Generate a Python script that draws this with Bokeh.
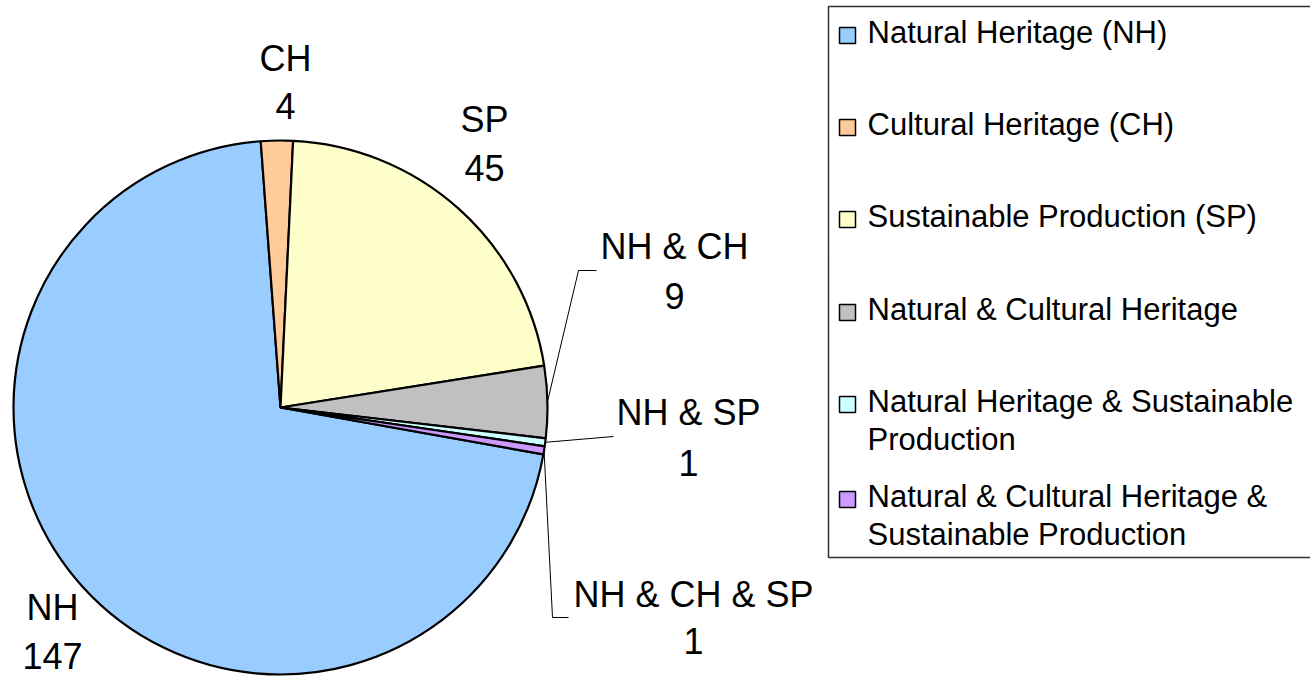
import math
from bokeh.plotting import figure
from bokeh.models import Range1d, ColumnDataSource
from bokeh.core.properties import value
from bokeh.embed import file_html
from bokeh.resources import INLINE

# ---- data ----
categories = [
    "Natural Heritage (NH)",
    "Cultural Heritage (CH)",
    "Sustainable Production (SP)",
    "Natural & Cultural Heritage",
    "Natural Heritage & Sustainable Production",
    "Natural & Cultural Heritage & Sustainable Production",
]
legend_lines = [
    ["Natural Heritage (NH)"],
    ["Cultural Heritage (CH)"],
    ["Sustainable Production (SP)"],
    ["Natural & Cultural Heritage"],
    ["Natural Heritage & Sustainable", "Production"],
    ["Natural & Cultural Heritage &", "Sustainable Production"],
]
short_labels = ["NH", "CH", "SP", "NH & CH", "NH & SP", "NH & CH & SP"]
counts = [147, 4, 45, 9, 1, 1]
colors = ["#99CCFF", "#FFCC99", "#FFFFCC", "#C0C0C0", "#CCFFFF", "#CC99FF"]

FONT = "Liberation Sans"

# ---- layout (pixel-like coordinates; y = -pixel row) ----
W, H = 1310, 678
cx, cy, R = 280, -407, 267
first_angle = -10.1  # degrees, slices go clockwise

total = sum(counts)
starts, ends = [], []
acc = 0.0
for c in counts:
    s = first_angle - acc * 360.0 / total
    e = s - c * 360.0 / total
    starts.append(s)
    ends.append(e)
    acc += c

p = figure(width=W, height=H, x_range=Range1d(0, W), y_range=Range1d(-H, 0),
           output_backend="svg", toolbar_location=None, min_border=0,
           x_axis_type=None, y_axis_type=None)
p.grid.visible = False
p.outline_line_color = None
p.background_fill_color = "white"

src = ColumnDataSource(dict(x=[cx] * len(counts), y=[cy] * len(counts),
                            start=starts, end=ends, color=colors))
p.wedge(x="x", y="y", radius=R, start_angle="start", end_angle="end",
        start_angle_units="deg", end_angle_units="deg", direction="clock",
        fill_color="color", line_color="black", line_width=2.2, source=src)

# ---- data labels ----
label_pos = [(52, 607, 655), (285, 58, 105), (484, 119, 167),
             (674, 246, 295), (688, 412, 462), (693, 594, 640)]
lx, ly, txt = [], [], []
for (x, y1, y2), name, c in zip(label_pos, short_labels, counts):
    lx += [x, x]
    ly += [-y1, -y2]
    txt += [name, str(c)]
p.text(x=lx, y=ly, text=txt, text_align="center", text_baseline="middle",
       text_font=value(FONT), text_font_size="36px", text_color="black")

# ---- leader lines for small slices ----
def edge_point(i):
    mid = math.radians((starts[i] + ends[i]) / 2)
    return cx + R * math.cos(mid), cy + R * math.sin(mid)

x0, y0 = edge_point(3)
p.line([x0, 578, 596], [y0, -270, -270], line_color="black", line_width=1)
x0, y0 = edge_point(4)
p.line([x0, 613], [y0, -436], line_color="black", line_width=1)
x0, y0 = edge_point(5)
p.line([x0, 552, 568], [y0, -617, -617], line_color="black", line_width=1)

# ---- legend ----
p.quad(left=[828], right=[1330], top=[-6], bottom=[-557], fill_color="white",
       line_color="#333333", line_width=1.5)
entry_y = [32, 124, 216, 309, 401, 496]
mx, my, mc = [], [], []
tx, ty, tt = [], [], []
for yy, lines, col in zip(entry_y, legend_lines, colors):
    mx.append(847)
    my.append(-(yy + 3))
    mc.append(col)
    for k, line in enumerate(lines):
        tx.append(867)
        ty.append(-(yy + 38 * k))
        tt.append(line)
p.rect(x=mx, y=my, width=16, height=16, fill_color=mc, line_color="black", line_width=1.5)
p.text(x=tx, y=ty, text=tt, text_align="left", text_baseline="middle",
       text_font=value(FONT), text_font_size="31px", text_color="black")

open("out.html", "w").write(file_html(p, INLINE))
